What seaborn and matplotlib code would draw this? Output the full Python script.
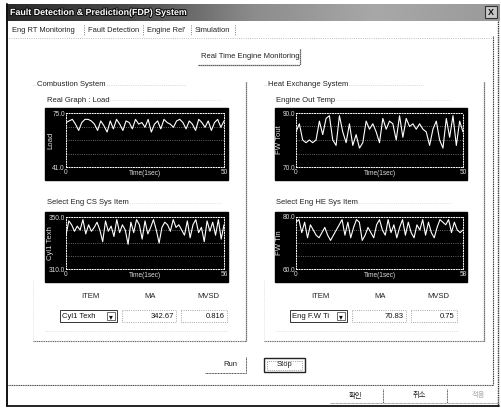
import matplotlib
matplotlib.use('Agg')
import matplotlib.pyplot as plt
import matplotlib.patheffects as pe
from matplotlib.patches import Rectangle
from matplotlib.colors import LinearSegmentedColormap
import numpy as np
import pandas as pd
import seaborn as sns

sns.set_style('white')
plt.rcParams['font.family'] = ['Liberation Sans', 'Noto Sans CJK KR']

W, H = 502, 409

# chart data
load = [69, 70, 71, 68, 64, 69, 71, 71, 70, 68, 64, 70, 67, 63, 70, 65, 71, 68, 64, 70,
        69, 65, 71, 68, 69, 66, 71, 63, 68, 70, 65, 71, 69, 68, 66, 70, 71, 69, 65, 70,
        68, 64, 71, 69, 66, 70, 64, 69, 71, 66, 70]
fw_tout = [83, 86, 80, 79, 80, 79, 80, 87, 82, 88, 89, 80, 78, 89, 83, 79, 86, 78, 82, 77,
           79, 87, 84, 86, 83, 79, 88, 84, 87, 86, 80, 89, 81, 88, 85, 86, 84, 86, 84, 83,
           78, 84, 87, 80, 77, 88, 81, 89, 78, 87, 83]
cyl1_texh = [336, 347, 344, 339, 343, 340, 348, 337, 344, 339, 342, 346, 340, 331, 347, 339,
             343, 335, 348, 338, 344, 340, 329, 346, 338, 348, 344, 333, 347, 337, 342, 348,
             340, 330, 342, 346, 344, 339, 348, 342, 344, 340, 336, 347, 334, 344, 348, 338,
             342, 331, 347, 339, 346, 336, 348, 333, 344]
fw_tin = [78, 79, 74, 78, 72, 77, 75, 73, 72, 74, 76, 73, 71, 73, 75, 77, 79, 73, 78, 72,
          76, 79, 78, 71, 73, 76, 74, 72, 77, 79, 75, 73, 79, 74, 77, 72, 76, 79, 73, 78,
          74, 72, 77, 75, 79, 73, 78, 74, 72, 76, 79, 78, 77, 79, 74, 78, 75, 74, 75]

ylims = {'Load': (41.0, 75.0), 'FW Tout': (70.0, 90.0),
         'Cyl1 Texh': (310.0, 350.0), 'FW Tin': (60.0, 80.0)}

tabs = ['Eng RT Monitoring', 'Fault Detection', "Engine Rel'", 'Simulation']
items = ['Cyl1 Texh', 'Eng F.W Ti']
ma_vals = ['342.67', '70.83']
mvsd_vals = ['0.816', '0.75']

fig = plt.figure(figsize=(W / 100, H / 100), dpi=100)
fig.patch.set_facecolor('white')
bg = fig.add_axes([0, 0, 1, 1])
bg.set_axis_off()

FS = 5.5
DOT = (0, (1, 0.6))


def px(x0, y0, x1, y1):
    return [x0 / W, 1 - y1 / H, (x1 - x0) / W, (y1 - y0) / H]


def hline(x0, x1, y, **kw):
    bg.plot([x0, x1], [y, y], **kw)


def vline(x, y0, y1, **kw):
    bg.plot([x, x], [y0, y1], **kw)


# window frame + title bar
grad = LinearSegmentedColormap.from_list('tb', ['#2a2a2a', '#4a4a4a', '#8c8c8c', '#a8a8a8', '#9a9a9a'])
bg.imshow(np.linspace(0, 1, 200)[None, :], extent=(6, 500, 21, 4), cmap=grad, aspect='auto')
bg.text(10, 12.5, 'Fault Detection & Prediction(FDP) System', color='white', fontsize=6.4,
        fontweight='bold', va='center', ha='left',
        path_effects=[pe.withStroke(linewidth=1.5, foreground='#111111')])
bg.add_patch(Rectangle((485, 6), 12, 12, fc='#c8c8c8', ec='#333333', lw=0.8))
bg.text(491, 12.3, 'X', fontsize=6.5, fontweight='bold', ha='center', va='center', color='#111111')
vline(7.5, 4, 406, color='#111111', lw=1.4)
vline(498.5, 21, 406, color='#333333', lw=1.0, ls=DOT)
hline(7, 499, 406, color='#111111', lw=1.3)

# tabs
for x, t in zip([12, 88, 147, 195], tabs):
    bg.text(x, 30, t, fontsize=5.4, va='center', ha='left', color='#222222')
for x in [84.5, 143.5, 191.5, 235]:
    vline(x, 25, 36, color='#555555', lw=0.6, ls=':')

# tab panel
hline(9, 493, 38, color='#aaaaaa', lw=0.6, ls=':')
vline(493, 36, 385, color='#333333', lw=0.8, ls=DOT)
hline(8, 493, 385, color='#444444', lw=0.8, ls=DOT)

# "Real Time Engine Monitoring" button
bg.text(250, 57, 'Real Time Engine Monitoring', fontsize=FS, ha='center', va='center', color='#222222')
hline(198, 300, 65, color='#333333', lw=0.9, ls=DOT)
vline(300, 49, 65, color='#333333', lw=0.9, ls=DOT)

# group boxes
for (gx0, gx1, title) in [(33, 246, 'Combustion System'), (264, 484, 'Heat Exchange System')]:
    hline(gx0, gx1 - 60, 85, color='#bbbbbb', lw=0.5, ls=':')
    vline(gx1, 82, 341, color='#444444', lw=0.9, ls=DOT)
    vline(gx0, 280, 341, color='#cccccc', lw=0.5, ls=':')
    hline(gx0, gx1, 341, color='#666666', lw=0.8, ls=DOT)
    bg.text(gx0 + 4, 85, title, fontsize=FS, ha='left', va='center', color='#222222',
            bbox=dict(fc='white', ec='none', pad=0.6))

sub_labels = [(47, 100, 'Real Graph : Load'), (276, 100, 'Engine Out Temp'),
              (47, 203, 'Select Eng CS Sys Item'), (276, 203, 'Select Eng HE Sys Item')]
for sx, sy, s in sub_labels:
    hline(sx, sx + 175, sy, color='#cccccc', lw=0.5, ls=':')
    bg.text(sx, sy, s, fontsize=FS, ha='left', va='center', color='#222222',
            bbox=dict(fc='white', ec='none', pad=0.6))


def draw_chart(box, values, ylabel):
    x0, y0, x1, y1 = box
    bg.add_patch(Rectangle((x0, y0), x1 - x0, y1 - y0, color='black'))
    ax = fig.add_axes(px(x0 + 21, y0 + 5, x1 - 4, y1 - 13))
    df = pd.DataFrame({'t': np.arange(len(values)), 'v': values})
    sns.lineplot(data=df, x='t', y='v', ax=ax, color='white', linewidth=0.8)
    lo, hi = ylims[ylabel]
    n = len(values) - 1
    ax.set_facecolor('black')
    ax.set_xlim(0, n)
    ax.set_ylim(lo, hi)
    for sp in ax.spines.values():
        sp.set_color('white')
        sp.set_linestyle(':')
        sp.set_linewidth(0.7)
    ax.set_yticks([lo, hi], [f'{lo:.1f}', f'{hi:.1f}'])
    ax.set_yticks(np.linspace(lo, hi, 5)[1:-1], minor=True)
    ax.set_xticks([0, n], ['0', str(n)])
    ax.tick_params(which='both', length=0, pad=1.2, labelsize=4.7, colors='#dddddd')
    ax.tick_params(axis='y', pad=0.8)
    ax.grid(which='minor', axis='y', color='#888888', ls=':', lw=0.6)
    ax.set_xlabel('')
    ax.set_ylabel(ylabel, color='#dddddd', fontsize=5.6)
    ax.yaxis.set_label_coords(-0.075, 0.5)
    ax.text(0.5, -0.05, 'Time(1sec)', transform=ax.transAxes, fontsize=4.7,
            color='#dddddd', ha='center', va='top')


draw_chart((45, 108, 228, 180), load, 'Load')
draw_chart((275, 108, 467, 180), fw_tout, 'FW Tout')
draw_chart((45, 212, 228, 282), cyl1_texh, 'Cyl1 Texh')
draw_chart((275, 212, 467, 282), fw_tin, 'FW Tin')

# ITEM / MA / MVSD rows
for gx, item, ma, mv in [(60, items[0], ma_vals[0], mvsd_vals[0]),
                         (290, items[1], ma_vals[1], mvsd_vals[1])]:
    for dx, h in [(30, 'ITEM'), (90, 'MA'), (148, 'MVSD')]:
        bg.text(gx + dx, 297, h, fontsize=FS, ha='center', va='center', color='#222222')
    bg.add_patch(Rectangle((gx, 310), 57, 12, fill=False, ec='#333333', lw=0.7))
    bg.text(gx + 2, 316, item, fontsize=FS, ha='left', va='center', color='#111111')
    bg.add_patch(Rectangle((gx + 47, 312), 8, 8, fill=False, ec='#333333', lw=0.5))
    bg.text(gx + 51, 316.5, '▾', fontsize=5.5, ha='center', va='center', color='#111111',
            family=['DejaVu Sans'])
    bg.add_patch(Rectangle((gx + 62, 310), 54, 12, fill=False, ec='#888888', lw=0.6, ls=':'))
    bg.text(gx + 114, 316, ma, fontsize=FS, ha='right', va='center', color='#111111')
    bg.add_patch(Rectangle((gx + 121, 310), 46, 12, fill=False, ec='#888888', lw=0.6, ls=':'))
    bg.text(gx + 165, 316, mv, fontsize=FS, ha='right', va='center', color='#111111')
    hline(gx - 15, gx + 168, 331, color='#cccccc', lw=0.5, ls=':')

# Run / Stop
bg.text(230, 365, 'Run', fontsize=FS, ha='center', va='center', color='#222222')
vline(246, 357, 373, color='#444444', lw=0.7, ls=DOT)
hline(205, 246, 373, color='#444444', lw=0.7, ls=DOT)
bg.add_patch(Rectangle((264, 358), 41, 14, fill=False, ec='#222222', lw=1.0))
bg.add_patch(Rectangle((267, 360.5), 35, 9, fill=False, ec='#555555', lw=0.5, ls=':'))
bg.text(285, 365, 'Stop', fontsize=FS, ha='center', va='center', color='#222222')

# dialog buttons
for bx, t, c in [(355, '확인', '#222222'), (419, '취소', '#222222'), (478, '적용', '#aaaaaa')]:
    bg.text(bx, 396, t, fontsize=5.3, ha='center', va='center', color=c)
for sx in [383, 447]:
    vline(sx, 389, 403, color='#555555', lw=0.7, ls=DOT)
hline(330, 499, 403, color='#777777', lw=0.6, ls=DOT)

bg.set_xlim(0, W)
bg.set_ylim(H, 0)
fig.savefig('out.png', dpi=100)
